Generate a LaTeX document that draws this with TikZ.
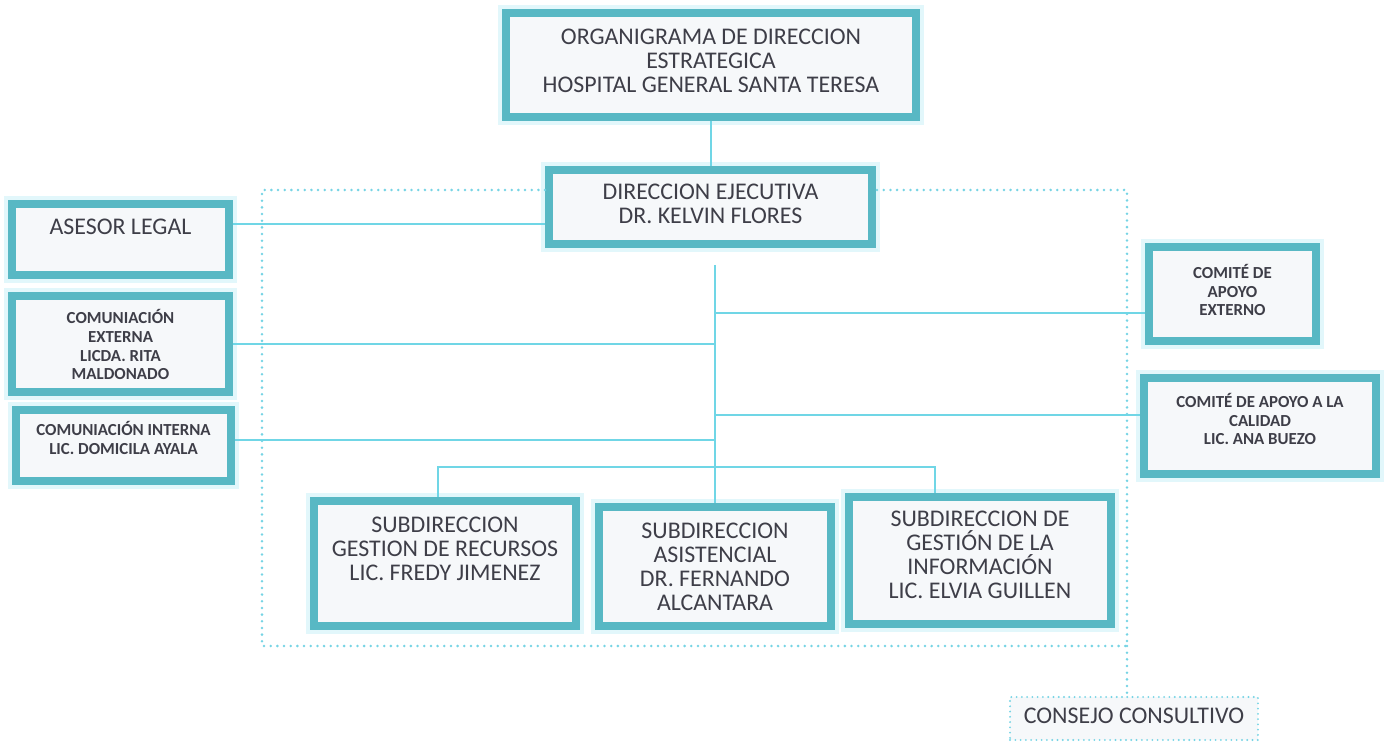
\documentclass[tikz,border=0pt]{standalone}
\usepackage{fontspec}
\setmainfont{Carlito}
\usepackage{tikz}
\usetikzlibrary{positioning, calc}
\definecolor{bordecolor}{RGB}{88,184,196}
\definecolor{lineacolor}{RGB}{112,214,230}
\definecolor{puntocolor}{RGB}{118,212,228}
\definecolor{fondocolor}{RGB}{246,248,250}
\definecolor{textocolor}{RGB}{62,62,72}
\definecolor{brillocolor}{RGB}{226,247,251}

\tikzset{
  caja/.style={draw=bordecolor, line width=4.5pt, fill=fondocolor, inner sep=0pt,
    preaction={draw=brillocolor, line width=9pt}},
  texto/.style={text=textocolor, align=center, inner sep=0pt,
    font=\fontsize{13.6}{13.6}\selectfont},
  textob/.style={text=textocolor, align=center, inner sep=0pt,
    font=\fontsize{9.6}{10.8}\selectfont\bfseries},
  enlace/.style={draw=lineacolor, line width=1.1pt},
  punteado/.style={draw=puntocolor, line width=1.6pt, line cap=round, dash pattern=on 0pt off 3.8pt},
}

\begin{document}
\begin{tikzpicture}[x=0.02cm, y=-0.02cm]
    \useasboundingbox (0,0) rectangle (1385,742);

    % Titulo
    \node[caja, minimum width=8.2cm, minimum height=2.08cm] (titulo) at (711,65) {};
    \node[texto] (titulotxt) at (711,61) {ORGANIGRAMA DE DIRECCION\\ESTRATEGICA\\HOSPITAL GENERAL SANTA TERESA};

    % Direccion ejecutiva
    \node[caja, minimum width=6.46cm, minimum height=1.48cm] (dir) at (710.5,207) {};
    \node[texto] (dirtxt) at (710.5,204) {DIRECCION EJECUTIVA\\DR. KELVIN FLORES};

    % Marco punteado y consejo
    \coordinate (marcoNE) at (1127,190);
    \coordinate (marcoSO) at (262,646);
    \node[draw=puntocolor, line width=1.2pt, dash pattern=on 0pt off 3pt, line cap=round,
      fill=fondocolor, minimum width=4.96cm, minimum height=0.86cm] (consejo) at (1134,718.5) {};
    \node[texto] (consejotxt) at (1134,716) {CONSEJO CONSULTIVO};
    \draw[punteado] (dir.west |- marcoNE) -| (marcoSO) -| (marcoNE) -- (dir.east |- marcoNE);
    \draw[punteado] (marcoNE |- marcoSO) -- (marcoNE |- consejo.north);

    % Staff izquierda
    \node[caja, minimum width=4.34cm, minimum height=1.42cm] (legal) at (120.5,239.5) {};
    \node[texto] (legaltxt) at (120.5,227) {ASESOR LEGAL};
    \node[caja, minimum width=4.34cm, minimum height=1.92cm] (comext) at (120.5,344) {};
    \node[textob] (comexttxt) at (120.5,344.5) {COMUNIACIÓN\\EXTERNA\\LICDA. RITA\\MALDONADO};
    \node[caja, minimum width=4.30cm, minimum height=1.42cm] (comint) at (123.5,445.5) {};
    \node[textob] (cominttxt) at (123.5,438) {COMUNIACIÓN INTERNA\\LIC. DOMICILA AYALA};

    % Comites derecha
    \node[caja, minimum width=3.34cm, minimum height=1.88cm] (apoyo) at (1232.5,294) {};
    \node[textob] (apoyotxt) at (1232.5,290) {COMITÉ DE\\APOYO\\EXTERNO};
    \node[caja, minimum width=4.64cm, minimum height=1.92cm] (calidad) at (1260,426) {};
    \node[textob] (calidadtxt) at (1260,419) {COMITÉ DE APOYO A LA\\CALIDAD\\LIC. ANA BUEZO};

    % Subdirecciones
    \node[caja, minimum width=5.24cm, minimum height=2.50cm] (recursos) at (445,563.5) {};
    \node[texto] (recursostxt) at (445,549) {SUBDIRECCION\\GESTION DE RECURSOS\\LIC. FREDY JIMENEZ};
    \node[caja, minimum width=4.64cm, minimum height=2.38cm] (asis) at (715,566.5) {};
    \node[texto] (asistxt) at (715,567) {SUBDIRECCION\\ASISTENCIAL\\DR. FERNANDO\\ALCANTARA};
    \node[caja, minimum width=5.24cm, minimum height=2.54cm] (info) at (980,560.5) {};
    \node[texto] (infotxt) at (980,555) {SUBDIRECCION DE\\GESTIÓN DE LA\\INFORMACIÓN\\LIC. ELVIA GUILLEN};

    % Conectores
    \coordinate (tronco) at (715,265);
    \draw[enlace] (titulo.south) -- (titulo.south |- dir.north);
    \draw[enlace] (tronco) -- (asis.north);
    \draw[enlace] ([yshift=0.31cm]legal.east) -- ([yshift=0.31cm]legal.east -| dir.west);
    \draw[enlace] (comext.east) -- (comext.east -| tronco);
    \draw[enlace] ([yshift=0.11cm]comint.east) -- ([yshift=0.11cm]comint.east -| tronco);
    \draw[enlace] (tronco |- 0,313) -- (apoyo.west |- 0,313);
    \draw[enlace] (tronco |- 0,415) -- (calidad.west |- 0,415);
    \draw[enlace] ([xshift=-0.14cm]recursos.north) |- (tronco |- 0,467) -| ([xshift=-0.9cm]info.north);
\end{tikzpicture}
\end{document}
